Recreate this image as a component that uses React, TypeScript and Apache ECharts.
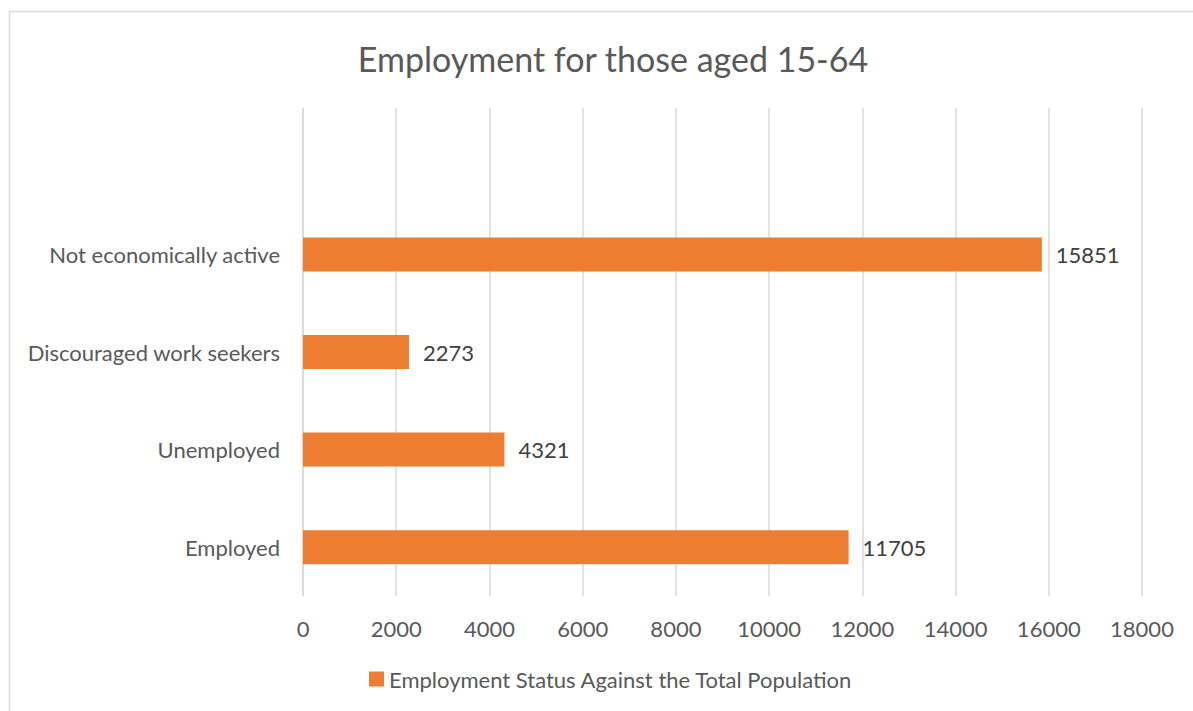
import React, { useEffect, useRef } from "react";
import * as echarts from "echarts";

const categories = ["Employed", "Unemployed", "Discouraged work seekers", "Not economically active", ""];
const values: (number | null)[] = [11705, 4321, 2273, 15851, null];
const seriesName = "Employment Status Against the Total Population";
const titleText = "Employment for those aged 15-64";

const FONT = "Lato, 'Open Sans', sans-serif";

export default function App() {
  const ref = useRef<HTMLDivElement>(null);
  useEffect(() => {
    if (!ref.current) return;
    const chart = echarts.init(ref.current, undefined, { renderer: "svg" });
    chart.setOption({
      animation: false,
      backgroundColor: "#ffffff",
      textStyle: { fontFamily: FONT },
      title: {
        text: titleText,
        left: 608,
        top: 36,
        textAlign: "center",
        textStyle: { fontFamily: FONT, fontSize: 34, fontWeight: "normal", color: "#595959" },
      },
      graphic: [
        {
          type: "rect",
          shape: { x: 9.5, y: 11.5, width: 1400, height: 900 },
          style: { fill: "none", stroke: "#D9D9D9", lineWidth: 1.5 },
          silent: true,
          z: -1,
        },
      ],
      legend: {
        bottom: 16,
        left: 364,
        itemWidth: 15,
        itemHeight: 15,
        itemGap: 10,
        icon: "rect",
        textStyle: { fontFamily: FONT, fontSize: 22, color: "#595959" },
        data: [seriesName],
      },
      grid: { left: 303, right: 51, top: 108, bottom: 115 },
      xAxis: {
        type: "value",
        min: 0,
        max: 18000,
        interval: 2000,
        axisLine: { show: false },
        axisTick: { show: false },
        splitLine: { show: true, lineStyle: { color: "#D9D9D9", width: 1.5 } },
        axisLabel: {
          fontFamily: FONT,
          fontSize: 22,
          color: "#595959",
          margin: 21,
          formatter: (v: number) => String(v),
        },
      },
      yAxis: {
        type: "category",
        data: categories,
        axisLine: { show: true, lineStyle: { color: "#D9D9D9", width: 1.5 } },
        axisTick: { show: false },
        splitLine: { show: false },
        axisLabel: { fontFamily: FONT, fontSize: 22, color: "#595959", margin: 23 },
      },
      series: [
        {
          name: seriesName,
          type: "bar",
          data: values,
          barWidth: 34,
          itemStyle: { color: "#ED7D31" },
          label: {
            show: true,
            position: "right",
            distance: 14,
            fontFamily: FONT,
            fontSize: 22,
            color: "#404040",
          },
        },
      ],
    });
    return () => chart.dispose();
  }, []);
  return <div ref={ref} style={{ position: "fixed", left: 0, top: 0, width: 1193, height: 711 }} />;
}
